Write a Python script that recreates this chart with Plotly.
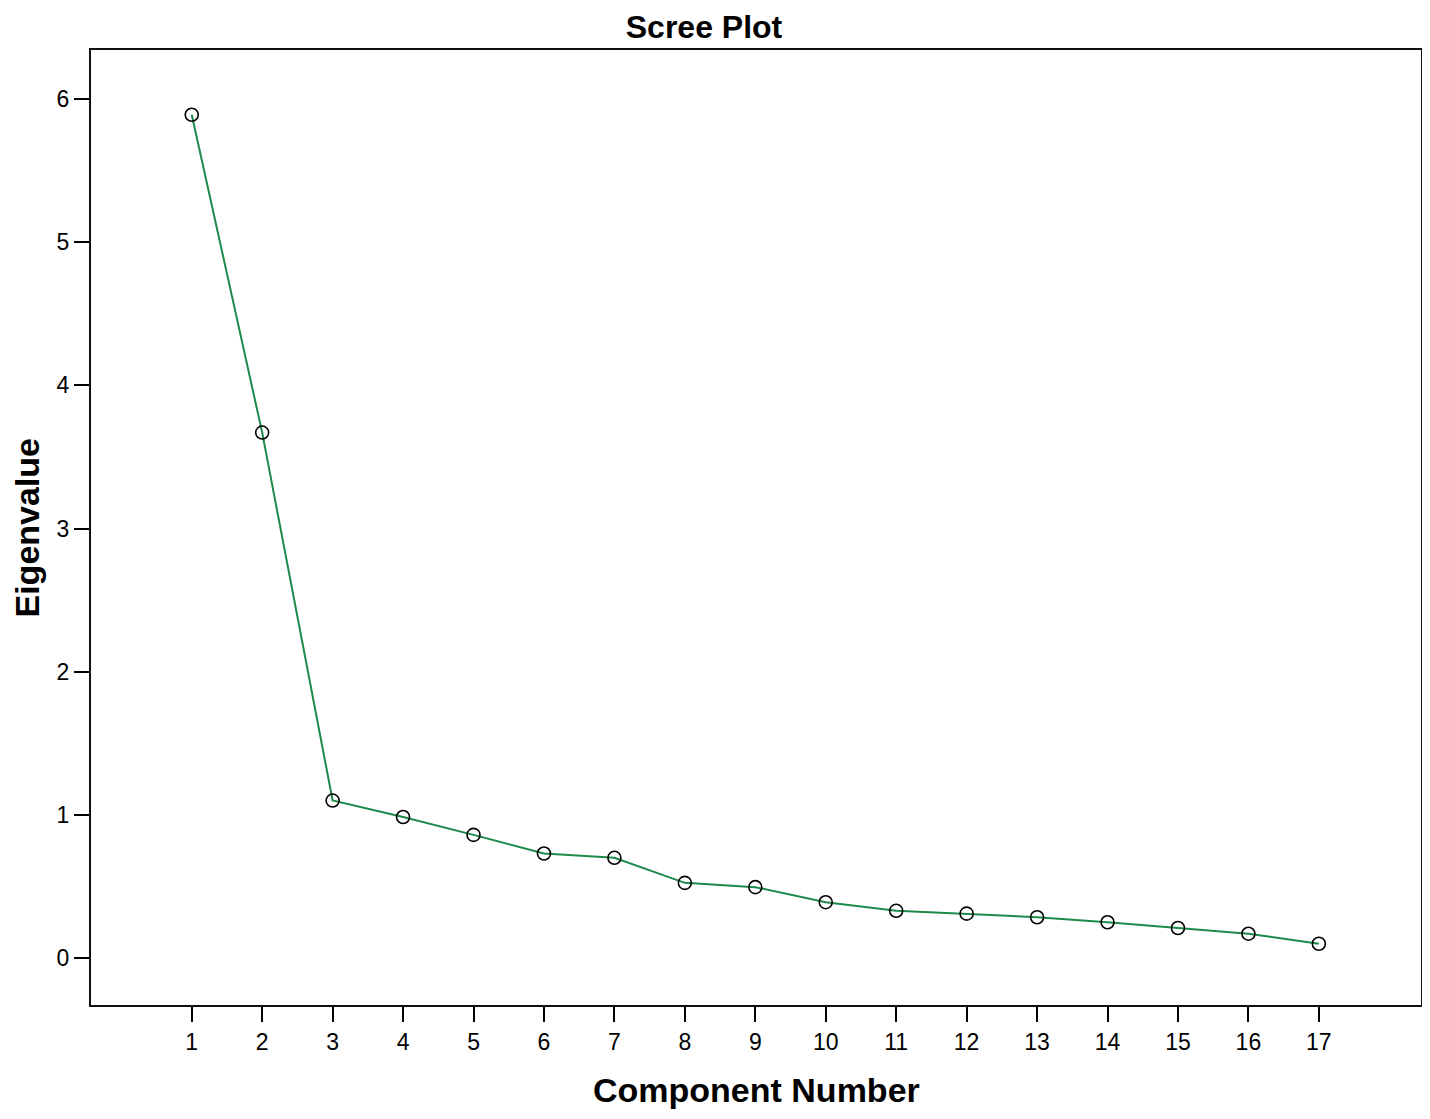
import plotly.graph_objects as go

components = list(range(1, 18))
eigenvalues = [5.89, 3.67, 1.10, 0.985, 0.86, 0.73, 0.70, 0.525, 0.495, 0.39,
               0.33, 0.31, 0.285, 0.25, 0.21, 0.17, 0.10]
x_ticks = list(range(1, 18))
y_ticks = [0, 1, 2, 3, 4, 5, 6]

# page has an 8px body margin; figure size/margins compensate for it
W, H = 1414, 1103
L, R, T, B = 83, 1, 42, 106

fig = go.Figure()
fig.add_trace(go.Scatter(
    x=components, y=eigenvalues, mode="lines+markers",
    line=dict(color="#1e8a4a", width=2),
    marker=dict(symbol="circle-open", size=13, color="black", line=dict(width=1.6, color="black")),
    showlegend=False,
))

fig.update_layout(
    width=W, height=H,
    paper_bgcolor="white", plot_bgcolor="white",
    margin=dict(l=L, r=R, t=T, b=B, autoexpand=False),
    font=dict(family="Liberation Sans, Arial, sans-serif", color="black", size=22),
    title=dict(text="<b>Scree Plot</b>", xref="container", x=696 / W, xanchor="center",
               yref="container", y=1 - 19 / H, yanchor="middle",
               font=dict(size=32, color="black")),
    annotations=[
        dict(text="<b>Component Number</b>", xref="paper", yref="paper", x=0.5, y=0,
             xanchor="center", yanchor="middle", yshift=-85, showarrow=False,
             font=dict(size=34, color="black")),
        dict(text="<b>Eigenvalue</b>", xref="paper", yref="paper", x=0, y=0.5,
             xanchor="center", yanchor="middle", xshift=-65, textangle=-90, showarrow=False,
             font=dict(size=34, color="black")),
    ],
)
fig.update_xaxes(
    range=[-0.43, 18.45], tickvals=x_ticks, ticktext=[str(t) for t in x_ticks],
    showgrid=False, zeroline=False, showline=True, linecolor="#111", linewidth=2, mirror=True,
    ticks="outside", ticklen=15, tickwidth=2, tickcolor="black",
    tickfont=dict(size=23), automargin=False,
)
fig.update_yaxes(
    range=[-0.328, 6.342], tickvals=y_ticks, ticktext=[str(t) for t in y_ticks],
    showgrid=False, zeroline=False, showline=True, linecolor="#111", linewidth=2, mirror=True,
    ticks="outside", ticklen=15, tickwidth=2, tickcolor="black",
    tickfont=dict(size=23), automargin=False,
)

fig.write_html("out.html")
